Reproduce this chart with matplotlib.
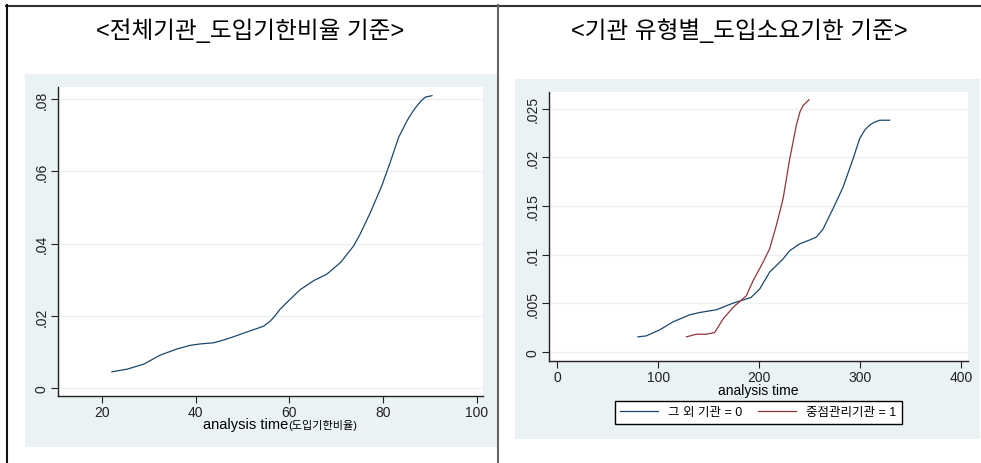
import matplotlib
matplotlib.use("Agg")
import matplotlib.pyplot as plt
from matplotlib.lines import Line2D
from matplotlib.patches import Rectangle

plt.rcParams["font.family"] = ["Liberation Sans", "Noto Sans CJK KR"]

W, H = 981, 464

# cumulative hazard, all institutions, by adoption-deadline ratio
all_time = [22.1, 25.3, 28.9, 32.4, 36.0, 38.8, 41.0, 43.8, 46.0, 48.1, 51.6,
            54.5, 55.9, 57.0, 58.0, 60.2, 62.3, 65.2, 68.0, 70.9, 73.7, 75.1,
            77.3, 79.7, 81.5, 83.3, 85.1, 86.2, 87.2, 88.2, 89.0, 90.4]
all_haz = [0.0046, 0.0053, 0.0067, 0.0092, 0.0109, 0.0119, 0.0123, 0.0126,
           0.0134, 0.0143, 0.0159, 0.0172, 0.0186, 0.0202, 0.0219, 0.0247,
           0.0273, 0.0298, 0.0316, 0.0348, 0.0394, 0.0427, 0.0487, 0.0560,
           0.0625, 0.0694, 0.0740, 0.0763, 0.0781, 0.0796, 0.0805, 0.0809]

# by institution type, adoption lead time
other_time = [80.1, 88.4, 101.6, 114.8, 131.2, 141.1, 157.6, 174.1, 192.0,
              200.5, 210.4, 223.6, 230.2, 240.1, 250.0, 256.6, 263.1, 273.0,
              282.9, 292.8, 299.4, 304.5, 309.3, 314.0, 319.2, 329.1]
other_haz = [0.00155, 0.00165, 0.00227, 0.00309, 0.00381, 0.00405, 0.00433,
             0.00501, 0.0056, 0.00646, 0.0082, 0.00955, 0.0104, 0.0111,
             0.0115, 0.0118, 0.0126, 0.0147, 0.0169, 0.0198, 0.0219, 0.0228,
             0.0233, 0.0236, 0.0238, 0.0238]
key_time = [128.0, 137.8, 147.7, 156.0, 164.2, 174.1, 187.3, 193.9, 203.8,
            210.4, 217.0, 223.6, 230.2, 236.8, 240.5, 243.4, 249.3]
key_haz = [0.00155, 0.00182, 0.00182, 0.0020, 0.00337, 0.00457, 0.00577,
           0.0073, 0.0092, 0.0106, 0.0130, 0.0157, 0.0198, 0.0233, 0.0247,
           0.0253, 0.0259]

left_ticks = [0, 0.02, 0.04, 0.06, 0.08]
left_ticklabels = ["0", ".02", ".04", ".06", ".08"]
right_ticks = [0, 0.005, 0.01, 0.015, 0.02, 0.025]
right_ticklabels = ["0", ".005", ".01", ".015", ".02", ".025"]
series_labels = ["그 외 기관 = 0", "중점관리기관 = 1"]

NAVY = "#1a476f"
MAROON = "#90353b"
BG = "#eaf2f3"


def box(x0, y0, x1, y1):
    # pixel box (top-left origin) -> figure fraction rect
    return [x0 / W, 1 - y1 / H, (x1 - x0) / W, (y1 - y0) / H]


def style_axes(ax):
    for s in ("top", "right"):
        ax.spines[s].set_visible(False)
    for s in ("left", "bottom"):
        ax.spines[s].set_color("#222222")
        ax.spines[s].set_linewidth(1.0)
    ax.tick_params(length=5, width=0.8, labelsize=10, colors="#222222", pad=1.5)
    ax.yaxis.grid(True, color=BG, lw=1.0)
    ax.set_axisbelow(True)
    for lab in ax.get_yticklabels():
        lab.set_rotation(90)
        lab.set_va("center")


fig = plt.figure(figsize=(W / 100, H / 100), dpi=100)

# table frame and panel backgrounds (kept under the axes)
fig.add_artist(Rectangle((25 / W, 1 - 448 / H), 472 / W, 373 / H,
                         transform=fig.transFigure, color=BG, lw=0, zorder=-5))
fig.add_artist(Rectangle((515 / W, 1 - 440 / H), 465 / W, 360 / H,
                         transform=fig.transFigure, color=BG, lw=0, zorder=-5))
fig.add_artist(Line2D([6 / W, 1], [1 - 6.5 / H] * 2, transform=fig.transFigure,
                      color="#333333", lw=1.5))
fig.add_artist(Line2D([6.5 / W] * 2, [0, 1 - 6 / H], transform=fig.transFigure,
                      color="#111111", lw=1.5))
fig.add_artist(Line2D([497.7 / W] * 2, [0, 1 - 6 / H], transform=fig.transFigure,
                      color="#666666", lw=1.5))

fig.text(250 / W, 1 - 31 / H, "<전체기관_도입기한비율 기준>", ha="center",
         va="center", fontsize=17)
fig.text(739 / W, 1 - 31 / H, "<기관 유형별_도입소요기한 기준>", ha="center",
         va="center", fontsize=17)

# left panel
ax1 = fig.add_axes(box(58, 88, 483, 397))
ax1.plot(all_time, all_haz, color=NAVY, lw=0.9)
ax1.set_xlim(10.6, 101.3)
ax1.set_ylim(-0.0021, 0.0833)
ax1.set_xticks([20, 40, 60, 80, 100])
ax1.set_yticks(left_ticks, left_ticklabels)
style_axes(ax1)
t1 = ax1.text(0.341, -0.092, "analysis time", transform=ax1.transAxes,
              ha="left", va="center", fontsize=10.5)
ax1.annotate("(도입기한비율)", xy=(1, 0.5), xycoords=t1, ha="left",
             va="center", fontsize=8)

# right panel
ax2 = fig.add_axes(box(549, 93, 968, 362))
ax2.plot(other_time, other_haz, color=NAVY, lw=0.9, label=series_labels[0])
ax2.plot(key_time, key_haz, color=MAROON, lw=0.9, label=series_labels[1])
ax2.set_xlim(-7.9, 406.6)
ax2.set_ylim(-0.00093, 0.0267)
ax2.set_xticks([0, 100, 200, 300, 400])
ax2.set_yticks(right_ticks, right_ticklabels)
style_axes(ax2)
ax2.text(0.5, -0.108, "analysis time", transform=ax2.transAxes,
         ha="center", va="center", fontsize=10)
fig.legend(loc="center", bbox_to_anchor=(758 / W, 1 - 413.5 / H),
           bbox_transform=fig.transFigure, ncol=2, fontsize=9,
           fancybox=False, edgecolor="black", framealpha=1,
           handlelength=3.0, columnspacing=1.3, borderpad=0.45)

fig.savefig("out.png", dpi=100)
